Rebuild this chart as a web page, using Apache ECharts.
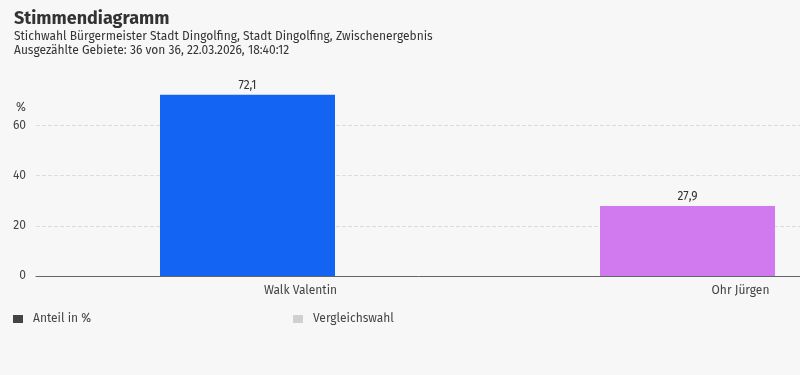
<!DOCTYPE html>
<html><head><meta charset="utf-8">
<script src="https://cdn.jsdelivr.net/npm/echarts@6/dist/echarts.min.js"></script>
<style>html,body{margin:0;padding:0;background:#f7f7f7}#c{width:800px;height:375px}</style>
</head><body><div id="c"></div>
<script>
const categories = ['Walk Valentin', 'Ohr Jürgen'];
const shares = [72.1, 27.9];
const comparison = [null, null];
const barColors = ['#1464f4', '#d17af0'];
const yTicks = [0, 20, 40, 60];

const FONT = '"Fira Sans","Noto Sans",sans-serif';
const chart = echarts.init(document.getElementById('c'));
chart.setOption({
  backgroundColor: '#f7f7f7',
  animation: false,
  textStyle: {fontFamily: FONT},
  title: {
    left: 9, top: 5,
    text: 'Stimmendiagramm',
    subtext: 'Stichwahl Bürgermeister Stadt Dingolfing, Stadt Dingolfing, Zwischenergebnis\nAusgezählte Gebiete: 36 von 36, 22.03.2026, 18:40:12',
    textStyle: {fontSize: 18, fontWeight: 'bold', color: '#333', fontFamily: FONT},
    subtextStyle: {fontSize: 12, color: '#333', lineHeight: 14, fontFamily: FONT},
    itemGap: 2
  },
  graphic: [{type: 'text', left: 16, top: 102, style: {text: '%', fontSize: 12, fill: '#444', fontFamily: FONT}}],
  legend: [
    {left: 8, top: 308, itemWidth: 10, itemHeight: 8, itemGap: 10, icon: 'rect', data: ['Anteil in %'], textStyle: {fontSize: 12, color: '#444', fontFamily: FONT, padding: [0, 0, 0, 5]}},
    {left: 288, top: 308, itemWidth: 10, itemHeight: 8, itemGap: 10, icon: 'rect', data: ['Vergleichswahl'], textStyle: {fontSize: 12, color: '#444', fontFamily: FONT, padding: [0, 0, 0, 5]}}
  ],
  grid: {left: 36, width: 880, top: 75, height: 201, outerBoundsMode: 'none', containLabel: false},
  xAxis: {
    type: 'category', data: categories,
    axisLine: {lineStyle: {color: '#666', width: 1}},
    axisTick: {show: false},
    axisLabel: {fontSize: 12, color: '#444', margin: 9, padding: [0, 0, 0, 89], fontFamily: FONT}
  },
  yAxis: {
    type: 'value', min: 0, max: 80, interval: 20,
    axisLabel: {fontSize: 12, color: '#444', margin: 10, fontFamily: FONT,
      formatter: v => yTicks.includes(v) ? String(v) : ''},
    splitLine: {lineStyle: {type: 'dashed', color: ['#dddddd', '#dddddd', '#dddddd', '#dddddd', 'rgba(0,0,0,0)']}}
  },
  series: [
    {name: 'Anteil in %', type: 'bar', barWidth: 175, barGap: '0%',
      itemStyle: {color: '#444'},
      data: shares.map((v, i) => ({value: v, itemStyle: {color: barColors[i]}})),
      label: {show: true, position: 'top', distance: 3, fontSize: 12, color: '#333', fontFamily: FONT,
        formatter: p => String(p.value).replace('.', ',')}},
    {name: 'Vergleichswahl', type: 'bar', barWidth: 17, itemStyle: {color: '#d0d0d0'}, data: comparison}
  ]
});
</script></body></html>
